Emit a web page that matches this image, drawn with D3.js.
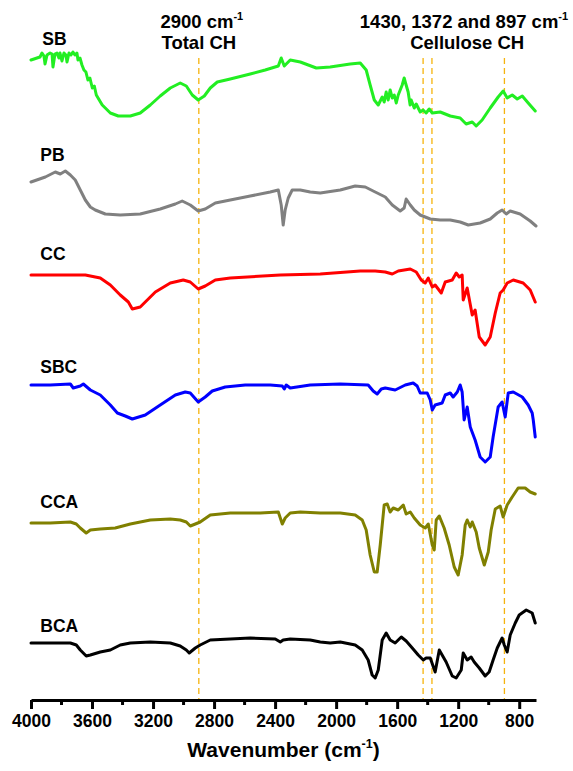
<!DOCTYPE html>
<html>
<head>
<meta charset="utf-8">
<script src="https://cdn.jsdelivr.net/npm/d3@7"></script>
<style>
  body { margin: 0; background: #fff; }
  svg { display: block; }
  text { font-family: "Liberation Sans", Arial, sans-serif; font-weight: bold; fill: #000; }
</style>
</head>
<body>
<svg id="chart" width="573" height="771"></svg>
<script>
// FTIR spectra, stacked with vertical offsets (arbitrary transmittance units)

const sbWave = [4000,3980,3961,3941,3928,3915,3908,3895,3875,3862,3856,3843,3830,3817,3810,3797,3784,3771,3764,3751,3738,3725,3712,3699,3692,3679,3666,3653,3640,3627,3614,3598,3585,3572,3533,3480,3428,3349,3284,3218,3153,3087,3022,2982,2943,2904,2864,2825,2779,2694,2563,2465,2379,2360,2340,2301,2235,2130,2039,1908,1842,1803,1777,1750,1724,1698,1685,1672,1659,1646,1632,1619,1606,1593,1580,1567,1554,1547,1528,1515,1508,1488,1475,1449,1430,1410,1390,1370,1318,1252,1187,1148,1108,1082,1043,990,938,905,879,846,813,780,741,695];
const sbT = [64.0,64.1,64.2,64.3,64.7,64.4,63.6,64.5,64.7,64.6,63.3,64.6,64.7,64.2,64.7,63.9,64.7,64.5,63.8,64.7,64.5,64.8,64.5,64.7,64.0,64.2,63.5,63.0,62.8,62.0,62.2,61.2,61.4,60.5,59.5,58.7,58.4,58.4,58.7,59.5,60.4,61.2,61.7,61.4,60.5,60.0,60.4,61.2,61.8,62.1,62.6,63.0,63.4,64.2,63.4,64.0,63.8,63.2,63.3,63.6,63.7,63.0,61.5,60.0,59.5,60.3,59.8,60.8,60.0,61.0,60.2,60.5,59.7,60.5,61.0,61.5,62.2,61.8,60.8,59.5,60.0,59.2,59.6,58.8,59.0,58.7,59.1,58.7,58.8,58.4,58.2,57.6,57.8,57.4,58.0,59.2,60.3,60.9,60.2,60.5,60.1,60.4,59.7,58.9];

const pbWave = [4000,3906,3841,3808,3775,3742,3710,3677,3644,3611,3579,3513,3415,3284,3153,3054,3009,2956,2904,2858,2792,2694,2563,2432,2379,2360,2347,2334,2314,2288,2235,2170,2104,1973,1875,1809,1744,1678,1632,1580,1554,1541,1514,1488,1449,1383,1318,1252,1187,1134,1056,990,944,912,885,859,794,728,690];
const pbT = [51.8,52.3,52.8,52.6,52.9,52.5,52.0,51.0,50.0,49.3,49.0,48.6,48.5,48.6,49.1,49.6,49.9,49.5,48.9,49.1,49.7,50.0,50.4,50.8,51.0,49.5,47.5,49.0,50.2,51.0,51.0,50.8,50.7,51.0,51.4,51.3,50.8,50.3,49.5,48.9,49.2,50.1,49.5,49.0,48.5,48.1,48.0,48.0,47.8,47.5,47.7,48.1,48.7,49.0,48.6,48.9,48.6,47.9,47.4];

const ccWave = [4000,3644,3546,3480,3415,3362,3336,3284,3251,3185,3087,3002,2956,2904,2858,2792,2694,2366,2104,1842,1744,1678,1632,1593,1514,1475,1442,1416,1396,1370,1351,1311,1285,1239,1213,1193,1174,1167,1141,1108,1089,1062,1023,990,957,925,905,879,839,774,728,695];
const ccT = [42.5,42.5,42.2,41.5,40.5,39.8,39.1,39.3,39.8,40.8,41.7,42.0,41.8,41.1,41.4,42.0,42.2,42.5,42.6,42.9,42.9,42.8,42.6,42.9,43.1,42.8,42.0,41.7,42.2,41.3,41.5,40.7,41.8,42.0,42.7,42.3,42.5,40.0,41.2,38.5,39.0,36.3,35.5,36.3,38.7,40.7,41.0,41.7,42.0,41.7,41.0,39.8];

const sbcWave = [4000,3874,3742,3723,3677,3657,3611,3546,3480,3434,3382,3336,3251,3153,3054,2989,2956,2904,2858,2812,2727,2596,2432,2353,2340,2327,2301,2170,1973,1790,1757,1731,1704,1678,1613,1547,1495,1469,1449,1403,1383,1370,1351,1305,1285,1252,1233,1206,1187,1174,1161,1141,1121,1089,1056,1023,990,971,938,912,892,872,839,780,741,715,708,695];
const sbcT = [31.5,31.5,31.6,31.2,31.4,31.6,31.0,30.5,29.5,28.7,28.4,28.1,28.5,29.5,30.5,30.8,30.7,29.8,30.3,30.9,31.3,31.5,31.5,31.4,31.1,31.5,31.2,31.5,31.6,31.5,30.9,30.6,31.1,31.2,31.0,31.5,31.7,31.4,30.7,30.7,30.0,29.0,29.5,29.7,30.5,30.7,30.3,30.8,31.5,30.8,28.0,29.3,27.3,26.0,24.3,23.8,24.3,26.3,29.3,29.8,28.3,30.7,30.8,30.3,29.5,28.7,28.0,26.3];

const ccaWave = [4000,3874,3742,3703,3677,3638,3611,3546,3448,3349,3218,3087,3022,2982,2956,2923,2891,2825,2694,2497,2379,2366,2353,2334,2301,2235,2104,1973,1875,1829,1803,1777,1750,1731,1711,1685,1665,1646,1626,1593,1560,1541,1514,1488,1449,1416,1396,1370,1357,1344,1324,1292,1259,1226,1200,1174,1154,1141,1121,1108,1082,1062,1029,1003,984,957,925,905,879,846,807,761,728,695];
const ccaT = [17.7,17.7,17.8,17.6,17.2,16.7,17.0,17.1,17.2,17.6,18.0,18.1,18.0,17.8,17.4,17.6,17.8,18.5,18.7,18.7,18.8,18.2,17.6,18.2,18.7,18.8,18.7,18.7,18.5,18.0,17.0,14.5,12.8,12.8,15.5,19.5,19.6,18.8,19.2,19.0,19.5,18.6,18.8,18.2,17.5,17.2,17.6,15.5,15.0,18.0,18.4,17.2,15.5,13.3,12.5,14.5,17.5,18.0,17.3,17.8,16.8,15.2,13.5,14.8,17.0,19.1,19.4,18.3,19.5,20.3,21.2,21.2,20.8,20.6];

const bcaWave = [4000,3742,3703,3677,3638,3611,3546,3480,3415,3349,3218,3087,3022,2982,2963,2923,2891,2825,2694,2563,2399,2366,2347,2301,2170,2104,2039,1973,1875,1829,1790,1764,1744,1724,1698,1672,1646,1613,1573,1541,1501,1462,1429,1410,1383,1351,1324,1279,1239,1213,1180,1167,1141,1115,1095,1062,1023,997,971,944,912,898,879,859,826,800,754,715,695];
const bcaT = [5.7,5.7,5.5,5.0,4.4,4.5,4.8,5.0,5.5,5.7,5.8,5.7,5.4,5.0,4.7,5.2,5.5,6.0,6.1,6.2,6.1,5.8,6.0,6.1,6.0,5.8,5.7,5.8,5.5,5.0,4.0,2.5,2.2,3.0,6.0,6.7,6.0,5.7,6.3,5.9,5.2,4.5,4.0,4.2,4.2,2.8,5.0,3.8,2.4,2.2,3.0,4.7,4.0,4.3,3.8,3.2,2.4,2.8,4.0,5.2,6.2,5.5,4.8,6.5,7.7,8.5,9.0,8.7,7.7];

const seriesNames = ["SB", "PB", "CC", "SBC", "CCA", "BCA"];
const seriesColors = ["#22ee22", "#808080", "#ff0000", "#0000ff", "#808000", "#000000"];
// label anchor (wavenumber, offset value) for each spectrum name
const labelWave = [3926, 3939, 3939, 3939, 3939, 3939];
const labelT = [65.5, 53.9, 44.0, 32.7, 19.2, 6.8];

const majorTicks = [4000, 3600, 3200, 2800, 2400, 2000, 1600, 1200, 800];
const minorTicks = [3800, 3400, 3000, 2600, 2200, 1800, 1400, 1000];
const markerWaves = [2900, 1430, 1372, 897];

const svg = d3.select("#chart");
const x = d3.scaleLinear().domain([4000, 690]).range([31, 536]);
const y = d3.scaleLinear().domain([0, 70]).range([700, 0]);

// dashed reference lines at the CH bands
svg.append("g").selectAll("line").data(markerWaves).join("line")
  .attr("x1", d => x(d)).attr("x2", d => x(d))
  .attr("y1", 58).attr("y2", y(0))
  .attr("stroke", "#f6b40e").attr("stroke-width", 1.3)
  .attr("stroke-dasharray", "6,4");

const waves = [sbWave, pbWave, ccWave, sbcWave, ccaWave, bcaWave];
const trans = [sbT, pbT, ccT, sbcT, ccaT, bcaT];
const series = seriesNames.map((name, i) => ({
  name, color: seriesColors[i],
  points: waves[i].map((w, j) => [w, trans[i][j]])
}));

const line = d3.line().x(d => x(d[0])).y(d => y(d[1]));

svg.append("g").selectAll("path").data(series).join("path")
  .attr("d", d => line(d.points))
  .attr("fill", "none")
  .attr("stroke", d => d.color)
  .attr("stroke-width", 3)
  .attr("stroke-linejoin", "round")
  .attr("stroke-linecap", "round");

svg.append("g").selectAll("text").data(series).join("text")
  .attr("x", (d, i) => x(labelWave[i]))
  .attr("y", (d, i) => y(labelT[i]))
  .attr("font-size", 17.5)
  .text(d => d.name);

// bottom axis
const axis = d3.axisBottom(x).tickValues(majorTicks).tickSize(9).tickSizeOuter(0).tickPadding(6)
  .tickFormat(d3.format("d"));
const gx = svg.append("g").attr("transform", `translate(0,${y(0)})`).call(axis);
gx.select(".domain").attr("stroke", "#000").attr("stroke-width", 3);
gx.selectAll(".tick line").attr("stroke", "#000").attr("stroke-width", 3);
gx.selectAll(".tick text").attr("font-size", 17.5)
  .attr("font-family", "'Liberation Sans', Arial, sans-serif").attr("font-weight", "bold").attr("fill", "#000");
gx.selectAll(".minor").data(minorTicks).join("line").attr("class", "minor")
  .attr("x1", d => x(d)).attr("x2", d => x(d)).attr("y1", 0).attr("y2", 5)
  .attr("stroke", "#000").attr("stroke-width", 3);

// axis title
const title = svg.append("text").attr("x", (x(4000) + x(690)) / 2).attr("y", 757)
  .attr("text-anchor", "middle").attr("font-size", 21);
title.append("tspan").text("Wavenumber (cm");
title.append("tspan").attr("font-size", 12.5).attr("dy", -9).text("-1");
title.append("tspan").attr("dy", 9).text(")");

// band annotations
function note(cx, yy, main, sup) {
  const t = svg.append("text").attr("x", cx).attr("y", yy).attr("text-anchor", "middle").attr("font-size", 18.5);
  t.append("tspan").text(main);
  if (sup) t.append("tspan").attr("font-size", 11).attr("dy", -8).text(sup);
}
note(x(2900) + 3, 28, "2900 cm", "-1");
note(x(2900), 49, "Total CH");
note(x(1162), 28, "1430, 1372 and 897 cm", "-1");
note(x(1141), 49, "Cellulose CH");
</script>
</body>
</html>
